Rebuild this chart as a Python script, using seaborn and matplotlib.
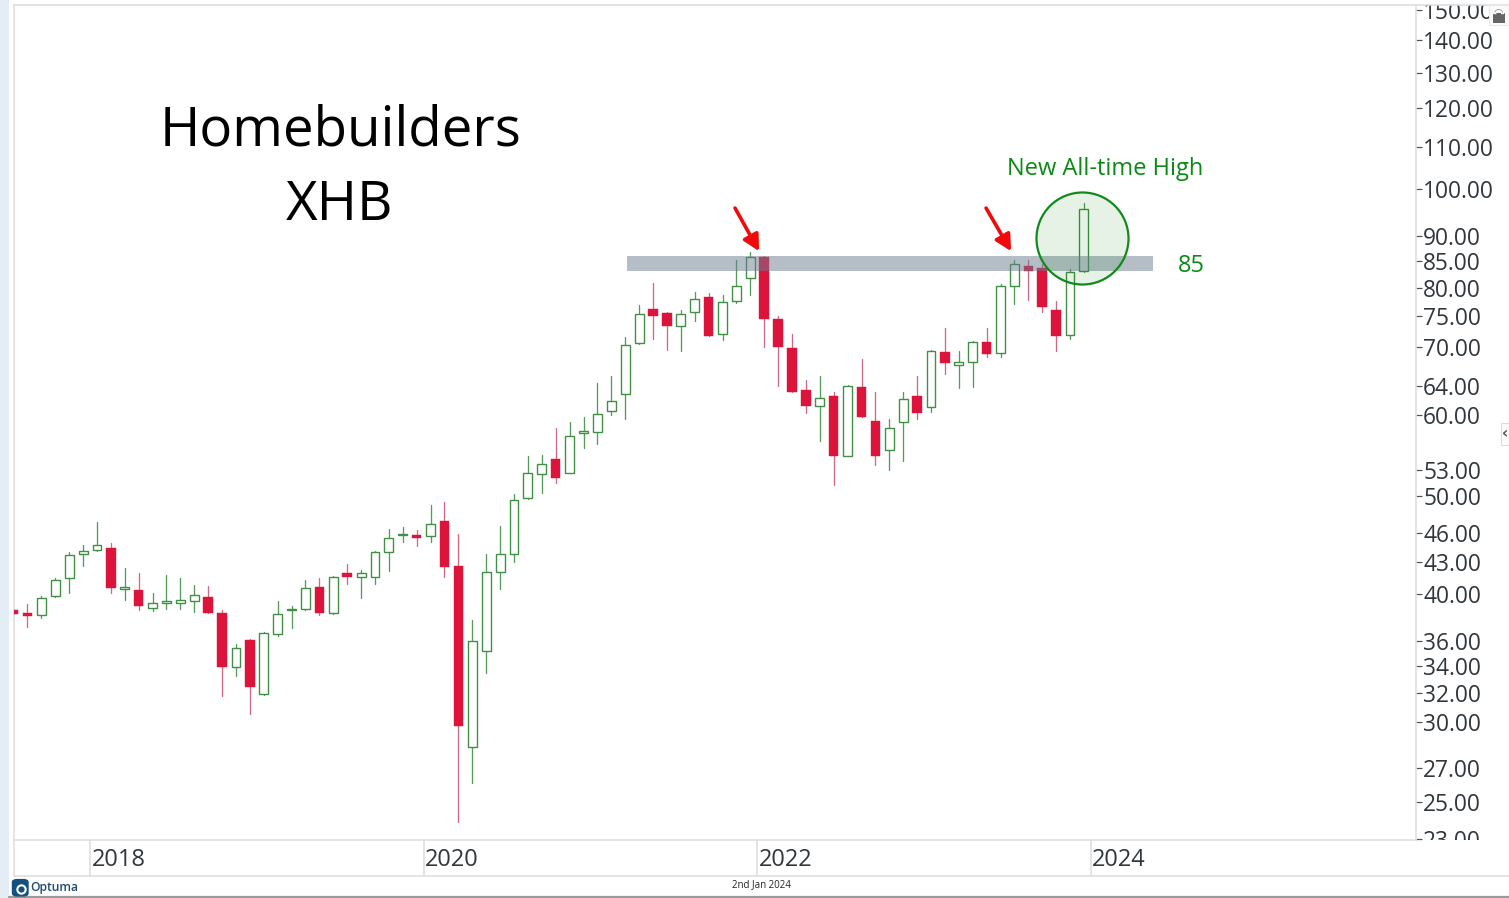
import numpy as np
import pandas as pd
import matplotlib
matplotlib.use("Agg")
import matplotlib.pyplot as plt
from matplotlib.lines import Line2D
from matplotlib.patches import Rectangle, FancyBboxPatch, Wedge
from matplotlib.ticker import NullLocator
from matplotlib.transforms import Bbox
import seaborn as sns

# ---- monthly XHB candles, Jul 2017 .. Dec 2023 ----
month_labels = pd.date_range("2017-07-01", "2023-12-01", freq="MS").strftime("%Y-%m").tolist()
high = [38.65,39.18,39.89,41.55,44.04,44.77,47.16,44.98,42.50,41.96,40.11,41.84,41.55,40.90,40.75,38.62,
        35.74,36.20,36.72,39.45,38.94,41.30,41.52,41.74,42.89,42.31,44.17,46.42,46.63,46.25,48.94,49.27,
        45.90,37.79,43.87,46.67,50.17,54.67,54.80,58.29,59.00,59.80,64.53,65.51,71.61,76.87,80.91,75.72,
        76.06,79.22,79.04,78.63,85.17,86.66,86.00,75.09,72.04,65.02,65.56,63.23,64.15,68.03,63.19,59.40,
        63.23,65.56,69.48,72.97,69.27,70.96,72.97,80.67,85.10,85.17,84.46,77.62,83.39,96.96]
body_high = [38.65,38.39,39.71,41.30,43.77,44.17,44.70,44.40,40.72,40.44,39.24,39.42,39.51,39.93,39.80,38.36,
             35.44,36.06,36.64,38.27,38.68,40.59,40.72,41.62,42.03,41.96,44.00,45.42,45.83,45.73,46.88,47.23,
             42.70,36.01,42.12,43.87,49.57,52.69,53.77,54.30,57.16,57.81,60.21,61.96,70.33,75.32,76.18,75.49,
             75.32,78.04,78.33,77.51,80.24,85.68,85.68,74.53,69.85,63.52,62.38,62.62,64.00,63.86,59.18,58.25,
             62.15,62.62,69.38,69.22,67.67,70.80,70.70,80.24,84.46,84.02,83.58,76.12,82.82,95.51]
body_low = [38.30,38.13,38.22,39.86,41.52,43.87,44.24,40.56,40.50,38.94,38.83,39.27,39.24,39.45,38.39,33.95,
            33.98,32.47,31.92,36.55,38.59,38.68,38.33,38.36,41.65,41.58,41.65,44.07,45.76,45.49,45.69,42.60,
            29.73,28.35,35.18,42.12,43.87,49.76,52.57,52.02,52.69,57.63,57.72,60.62,62.95,70.54,75.04,73.30,
            73.30,75.72,71.77,72.04,77.68,81.71,74.47,70.01,63.23,61.26,61.26,54.75,54.75,59.76,54.75,55.50,
            59.13,60.30,61.17,67.52,67.16,67.57,68.91,68.96,80.24,83.14,76.64,71.66,71.83,83.01]
low = [38.30,37.17,37.93,39.77,40.14,42.66,44.14,40.14,39.48,38.65,38.54,38.71,38.68,38.45,38.33,31.80,
       33.24,30.55,31.89,36.44,37.08,38.59,38.22,38.30,40.99,39.69,40.99,42.18,45.01,44.67,45.04,41.62,
       23.91,26.12,33.49,40.53,43.05,49.64,50.25,51.47,52.65,55.71,56.22,60.07,59.49,70.48,71.18,69.43,
       69.33,74.19,71.72,71.02,77.33,78.68,69.90,64.00,63.19,60.30,56.60,51.20,54.71,59.71,53.57,53.01,
       54.06,59.44,60.48,65.81,63.76,63.90,68.44,68.44,77.16,77.86,75.66,69.27,71.23,82.95]
down_months = {"2017-07","2017-08","2018-02","2018-04","2018-09","2018-10","2018-12","2019-05","2019-07",
               "2019-12","2020-02","2020-03","2020-10","2021-05","2021-06","2021-09","2022-01","2022-02",
               "2022-03","2022-04","2022-06","2022-08","2022-09","2022-12","2023-02","2023-05","2023-08",
               "2023-09","2023-10"}
price_ticks = [150,140,130,120,110,100,90,85,80,75,70,64,60,53,50,46,43,40,36,34,32,30,27,25,23]
year_labels = ["2018","2020","2022","2024"]
resistance = (83.1, 85.95)

W, H = 1509, 898
RED, RED_WICK = "#dc143c", "#cf6a86"
GREEN, GREEN_WICK, TEXTGREEN = "#3f8f45", "#559c5a", "#0a8a14"
TXT = "#30373c"
LINE = "#dcdcdc"
FONT = "Open Sans"

sns.set_theme(style="white")
plt.rcParams["font.family"] = [FONT, "DejaVu Sans"]

df = pd.DataFrame({"month": month_labels, "high": high, "body_high": body_high,
                   "body_low": body_low, "low": low})
df["pos"] = np.arange(len(df))
df["dir"] = ["down" if m in down_months else "up" for m in df["month"]]

fig = plt.figure(figsize=(W / 100, H / 100), dpi=100, facecolor="white")
ax = fig.add_axes([14 / W, 1 - 840 / H, (1416 - 14) / W, (840 - 5) / H])
ax.set_facecolor("white")
ax.set_yscale("log")

# wicks
wicks = df.melt(id_vars=["pos", "dir"], value_vars=["high", "low"], value_name="price")
sns.lineplot(data=wicks, x="pos", y="price", hue="dir", units="pos", estimator=None, sort=False,
             palette={"up": GREEN_WICK, "down": RED_WICK}, linewidth=0.95, legend=False, ax=ax, zorder=2)
# bodies
up = df[df["dir"] == "up"]
dn = df[df["dir"] == "down"]
ax.bar(up["pos"], up["body_high"] - up["body_low"], bottom=up["body_low"], width=0.64,
       facecolor="white", edgecolor=GREEN, linewidth=1.0, zorder=3)
ax.bar(dn["pos"], dn["body_high"] - dn["body_low"], bottom=dn["body_low"], width=0.68,
       facecolor=RED, edgecolor=RED, linewidth=0.3, zorder=3)

ax.set_xlim(0.03, 100.89)
ax.set_ylim(22.96, 151.6)
ax.set_xlabel(""); ax.set_ylabel("")

# resistance band, breakout circle, arrows
ax.fill_between([44.13, 81.97], resistance[0], resistance[1], facecolor="#6d7d91", alpha=0.5,
                linewidth=0, zorder=4)
ax.scatter([76.86], [89.5], s=4390, facecolor=(0.0, 0.5, 0.0, 0.10), edgecolor="#118a1c",
           linewidth=1.6, zorder=5)
for x0, x1 in [(51.9, 53.63), (69.96, 71.76)]:
    ax.annotate("", xy=(x1, 86.9), xytext=(x0, 95.8),
                arrowprops=dict(arrowstyle="-|>,head_length=0.8,head_width=0.42", color="#f00a0a",
                                lw=2.6, shrinkA=0, shrinkB=0), zorder=6)

# y axis on the right
ax.yaxis.tick_right()
ax.set_yticks(price_ticks, labels=[f"{p:.2f}" for p in price_ticks])
ax.yaxis.set_minor_locator(NullLocator())
ax.tick_params(axis="y", which="major", direction="out", length=4.5, width=0.9, color="#555555",
               pad=0.6, labelsize=16.4, labelcolor=TXT, right=True, left=False)
clip = Bbox([[1416, H - 840], [W, H - 5]])
for lab in ax.get_yticklabels():
    lab.set_clip_box(clip)
    lab.set_clip_on(True)

# x axis: separators with left-aligned year labels
ax.set_xticks([5.5, 29.5, 53.5, 77.5], labels=year_labels)
ax.tick_params(axis="x", which="major", direction="out", length=26, width=1.1, color=LINE,
               pad=-20.6, labelsize=17, labelcolor=TXT, bottom=True)
for lab in ax.get_xticklabels():
    lab.set_ha("left")
    lab.set_transform(lab.get_transform() + matplotlib.transforms.ScaledTranslation(1.0 / 72, 0, fig.dpi_scale_trans))

ax.spines["top"].set_visible(False)
for s in ["left", "right", "bottom"]:
    ax.spines[s].set_visible(True)
    ax.spines[s].set_color(LINE)
    ax.spines[s].set_linewidth(1.1)

def fx(x): return x / W
def fy(y): return 1 - y / H

# annotation text
fig.text(fx(341), fy(131), "Homebuilders", fontsize=39.4, color="black", ha="center", va="center", family=FONT)
fig.text(fx(340), fy(206), "XHB", fontsize=39.4, color="black", ha="center", va="center", family=FONT)
fig.text(fx(1105), fy(169), "New All-time High", fontsize=17, color=TEXTGREEN, ha="center", va="center", family=FONT)
fig.text(fx(1191), fy(266.5), "85", fontsize=17, color=TEXTGREEN, ha="center", va="center", family=FONT)

# window chrome
def hline(y, c=LINE, lw=1.1, x0=14, x1=W):
    fig.add_artist(Line2D([fx(x0), fx(x1)], [fy(y), fy(y)], color=c, lw=lw, transform=fig.transFigure))
def box(x0, y0, x1, y1, fc, ec="none", lw=0, z=10):
    fig.add_artist(Rectangle((fx(x0), fy(y1)), (x1 - x0) / W, (y1 - y0) / H, facecolor=fc, edgecolor=ec,
                             linewidth=lw, transform=fig.transFigure, zorder=z))
box(0, 0, 9, H, "#e4edf6", z=1)
hline(4.5)
hline(876)
hline(896.5, c="#9a9a9a", lw=1.6, x0=9)
fig.add_artist(Line2D([fx(14), fx(14)], [fy(840), fy(876)], color=LINE, lw=1.1, transform=fig.transFigure))

# footer
fig.text(fx(761.5), fy(885), "2nd Jan 2024", fontsize=7, color="#222222", ha="center", va="center", family=FONT)
fig.add_artist(FancyBboxPatch((fx(14), fy(895)), 12.5 / W, 14.5 / H, boxstyle="round,pad=0.001,rounding_size=0.003",
                              facecolor="#14517f", edgecolor="#14517f", linewidth=1, transform=fig.transFigure, zorder=11))
fig.add_artist(Line2D([fx(21)], [fy(889)], marker="o", ms=6, mfc="#14517f", mec="white", mew=1.5,
                      transform=fig.transFigure, zorder=12))
fig.text(fx(30), fy(887.5), "Optuma", fontsize=8.7, color="#234a70", ha="left", va="center",
         family=FONT, fontweight="semibold", zorder=12)

# lock button
box(1489, 5, W, 25, "#fbfbfb", ec="#e8e8e8", lw=0.8)
box(1492.5, 13.5, 1505, 22.5, "#666666", z=12)
fig.add_artist(Wedge((1498.7, H - 13.5), 5.0, 0, 180, width=2.0, facecolor="#666666",
                     transform=matplotlib.transforms.IdentityTransform(), zorder=12))
# collapse tab
box(1501, 423, W + 2, 445, "#fbfbfb", ec="#dddddd", lw=0.8)
fig.text(fx(1505), fy(433.5), "‹", fontsize=11, fontweight="bold", color="#555555", ha="center", va="center",
         family="DejaVu Sans", zorder=12)

fig.savefig("out.png", dpi=100, facecolor="white")
